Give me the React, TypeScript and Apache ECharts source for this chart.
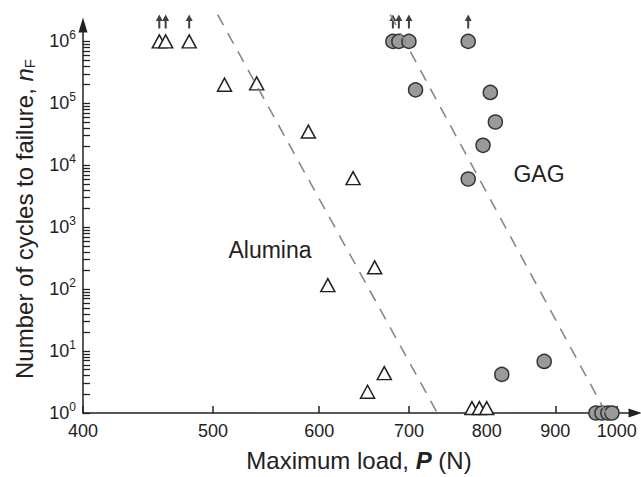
import React, { useEffect, useRef } from "react";
import * as echarts from "echarts";

const FONT = "Liberation Sans, Arial, Helvetica, sans-serif";

const xTickValues = [400, 500, 600, 700, 800, 900, 1000];
const yTickValues = [1, 10, 100, 1000, 10000, 100000, 1000000];
const yMinorTickValues = [
  2, 3, 4, 5, 6, 7, 8, 9,
  20, 30, 40, 50, 60, 70, 80, 90,
  200, 300, 400, 500, 600, 700, 800, 900,
  2000, 3000, 4000, 5000, 6000, 7000, 8000, 9000,
  20000, 30000, 40000, 50000, 60000, 70000, 80000, 90000,
  200000, 300000, 400000, 500000, 600000, 700000, 800000, 900000,
];

// Alumina (open triangles)
const aluminaLoad = [456, 461, 480, 510, 539, 589, 636, 660, 609, 671, 652, 780, 790, 800];
const aluminaCycles = [1e6, 1e6, 1e6, 2.0e5, 2.1e5, 3.5e4, 6.2e3, 225, 116, 4.4, 2.2, 1.2, 1.2, 1.2];
const aluminaRunout = [true, true, true, false, false, false, false, false, false, false, false, false, false, false];

// GAG (grey circles)
const gagLoad = [681, 688, 700, 775, 708, 805, 812, 795, 775, 821, 883, 965, 975, 985, 992];
const gagCycles = [1e6, 1e6, 1e6, 1e6, 1.65e5, 1.5e5, 5.0e4, 2.1e4, 6.0e3, 4.2, 6.8, 1, 1, 1, 1];
const gagRunout = [true, true, true, true, false, false, false, false, false, false, false, false, false, false, false];

// Dashed trend lines
const aluminaTrendLoad = [504, 735];
const aluminaTrendCycles = [2.7e6, 1];
const gagTrendLoad = [678, 982];
const gagTrendCycles = [2.7e6, 1];

const ARROW = "path://M3.5,0 L7,6.5 L4.5,6.5 L4.5,14 L2.5,14 L2.5,6.5 L0,6.5 Z";

export default function App() {
  const ref = useRef<HTMLDivElement>(null);

  useEffect(() => {
    document.body.style.margin = "0";
    const chart = echarts.init(ref.current!, undefined, { renderer: "svg" });

    const alumina = aluminaLoad.map((p, i) => [p, aluminaCycles[i]]);
    const gag = gagLoad.map((p, i) => [p, gagCycles[i]]);
    const runouts = [
      ...aluminaLoad.map((p, i) => (aluminaRunout[i] ? [p, aluminaCycles[i]] : null)),
      ...gagLoad.map((p, i) => (gagRunout[i] ? [p, gagCycles[i]] : null)),
    ].filter(Boolean);

    const axisColor = "#222";

    const option: any = {
      animation: false,
      backgroundColor: "#ffffff",
      grid: { left: 83, right: 6, top: 25, bottom: 60 },
      xAxis: {
        type: "log",
        logBase: 10,
        min: 400,
        max: 1032,
        name: "Maximum load, {bi|P} (N)",
        nameLocation: "middle",
        nameGap: 35,
        nameTextStyle: {
          fontFamily: FONT,
          fontSize: 24,
          color: axisColor,
          rich: {
            bi: { fontFamily: FONT, fontSize: 24, fontWeight: "bold", fontStyle: "italic", color: axisColor },
          },
        },
        axisLine: {
          show: true,
          symbol: ["none", "triangle"],
          symbolSize: [9, 13],
          lineStyle: { color: axisColor, width: 1.5 },
        },
        axisTick: {
          show: true,
          inside: true,
          length: 7,
          customValues: xTickValues,
          lineStyle: { color: axisColor, width: 1.5 },
        },
        axisLabel: {
          customValues: xTickValues,
          margin: 9,
          fontSize: 18,
          fontFamily: FONT,
          color: axisColor,
          formatter: (v: number) => String(Math.round(v)),
        },
        splitLine: { show: false },
        minorTick: { show: false },
      },
      yAxis: {
        type: "log",
        logBase: 10,
        min: 1,
        max: 1.84e6,
        name: "Number of cycles to failure, {i|n}{sub|F}",
        nameLocation: "middle",
        nameGap: 46,
        nameRotate: 90,
        nameTextStyle: {
          fontFamily: FONT,
          fontSize: 24,
          color: axisColor,
          rich: {
            i: { fontFamily: FONT, fontSize: 24, fontStyle: "italic", color: axisColor },
            sub: { fontFamily: FONT, fontSize: 15, color: axisColor, padding: [10, 0, 0, 0] },
          },
        },
        axisLine: {
          show: true,
          symbol: ["none", "triangle"],
          symbolSize: [9, 15],
          lineStyle: { color: axisColor, width: 1.5 },
        },
        axisTick: {
          show: true,
          inside: true,
          length: 7,
          customValues: [...yTickValues, ...yMinorTickValues],
          lineStyle: { color: axisColor, width: 1.3 },
        },
        axisLabel: {
          customValues: yTickValues,
          margin: 7,
          formatter: (v: number) => `{b|10}{s|${Math.round(Math.log10(v))}}`,
          rich: {
            b: { fontFamily: FONT, fontSize: 18, color: axisColor },
            s: { fontFamily: FONT, fontSize: 12, color: axisColor, padding: [0, 0, 12, 0] },
          },
        },
        splitLine: { show: false },
        minorTick: { show: false },
      },
      graphic: [
        {
          type: "text",
          x: 270,
          y: 250,
          silent: true,
          style: {
            text: "Alumina",
            fontFamily: FONT,
            fontSize: 23,
            fill: axisColor,
            align: "center",
            verticalAlign: "middle",
          },
        },
        {
          type: "text",
          x: 539,
          y: 174,
          silent: true,
          style: {
            text: "GAG",
            fontFamily: FONT,
            fontSize: 23,
            fill: axisColor,
            align: "center",
            verticalAlign: "middle",
          },
        },
      ],
      series: [
        {
          name: "Alumina",
          type: "scatter",
          data: alumina,
          symbol: "triangle",
          symbolSize: [14, 13],
          silent: true,
          itemStyle: { color: "#ffffff", borderColor: "#222", borderWidth: 1.5, opacity: 1 },
          z: 3,
        },
        {
          name: "GAG",
          type: "scatter",
          data: gag,
          symbol: "circle",
          symbolSize: 14,
          silent: true,
          itemStyle: { color: "#9a9a9a", borderColor: "#333", borderWidth: 1.5, opacity: 1 },
          z: 3,
        },
        {
          name: "Run-out",
          type: "scatter",
          data: runouts,
          symbol: ARROW,
          symbolSize: [7, 14],
          symbolOffset: [0, -20],
          silent: true,
          itemStyle: { color: "#111" },
          z: 4,
        },
        {
          name: "Alumina trend",
          type: "line",
          data: aluminaTrendLoad.map((p, i) => [p, aluminaTrendCycles[i]]),
          symbol: "none",
          clip: false,
          silent: true,
          lineStyle: { color: "#888", width: 1.6, type: [12, 9] },
          z: 5,
        },
        {
          name: "GAG trend",
          type: "line",
          data: gagTrendLoad.map((p, i) => [p, gagTrendCycles[i]]),
          symbol: "none",
          clip: false,
          silent: true,
          lineStyle: { color: "#888", width: 1.6, type: [12, 9] },
          z: 5,
        },
      ],
    };

    chart.setOption(option);
    return () => chart.dispose();
  }, []);

  return (
    <div
      ref={ref}
      style={{ position: "fixed", left: 0, top: 0, width: 641, height: 477, background: "#fff" }}
    />
  );
}
